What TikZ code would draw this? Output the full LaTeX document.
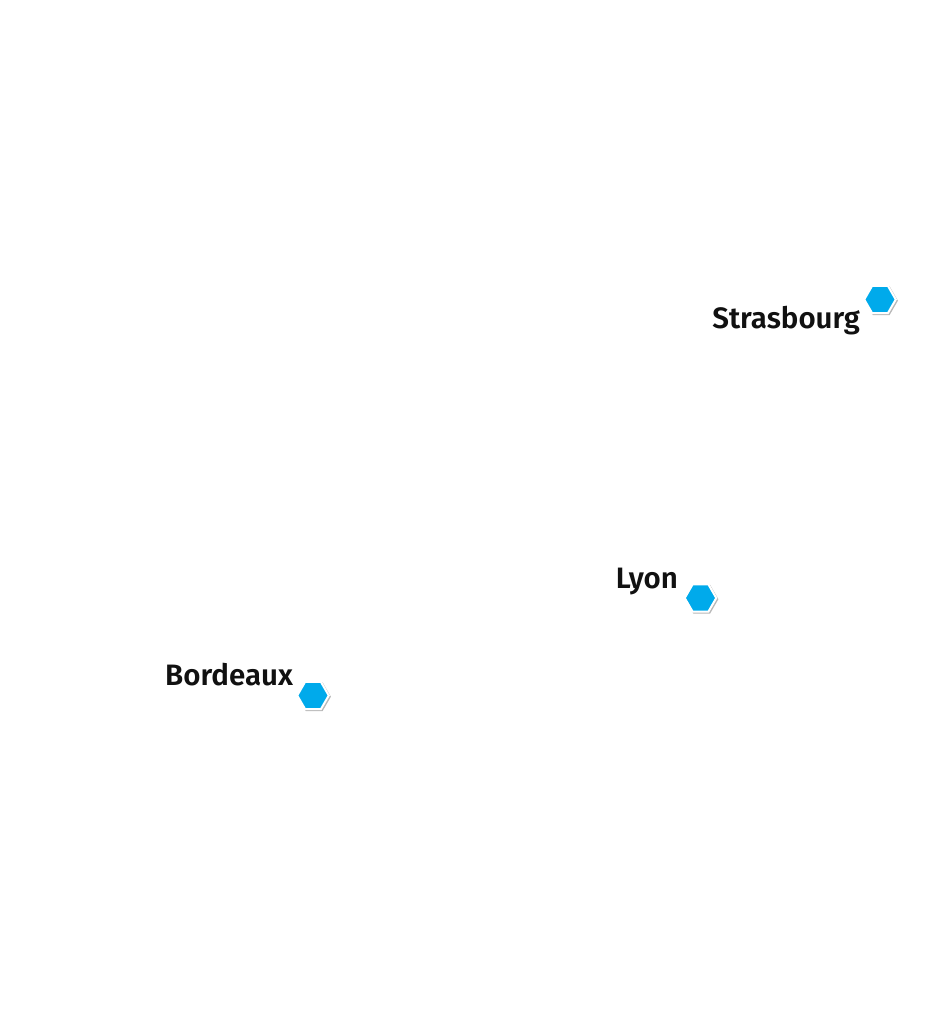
\documentclass[tikz,border=0pt]{standalone}
\usepackage{fontspec}
\newfontfamily\labfont{Fira Sans SemiBold}
\usetikzlibrary{shapes.geometric}
\tikzset{
  x=1pt,y=-1pt,
  city/.style={regular polygon,regular polygon sides=6,minimum size=31.5pt,inner sep=0pt,outer sep=0pt,fill=hexblue,draw=white,line width=2pt,
    preaction={draw=black!28,fill=black!28,line width=1.6pt,transform canvas={xshift=1.2pt,yshift=-1.2pt}}},
  citylabel/.style={font=\labfont\fontsize{29.5}{32}\selectfont,text=labelink,inner sep=0pt,outer sep=0pt}
}
\definecolor{hexblue}{RGB}{0,170,235}
\definecolor{labelink}{RGB}{17,17,17}
\begin{document}
\begin{tikzpicture}
\useasboundingbox (0,0) rectangle (946,1031);
\fill[white] (0,0) rectangle (946,1031);
\node[city] (s) at (880,299.5) {};
\node[city] (l) at (700.5,598) {};
\node[city] (b) at (313,695.5) {};
\node[citylabel,anchor=base east] (st) at (860,328) {Strasbourg};
\node[citylabel,anchor=base east] (ly) at (678,588) {Lyon};
\node[citylabel,anchor=base east] (bo) at (293,685) {Bordeaux};
\end{tikzpicture}
\end{document}
